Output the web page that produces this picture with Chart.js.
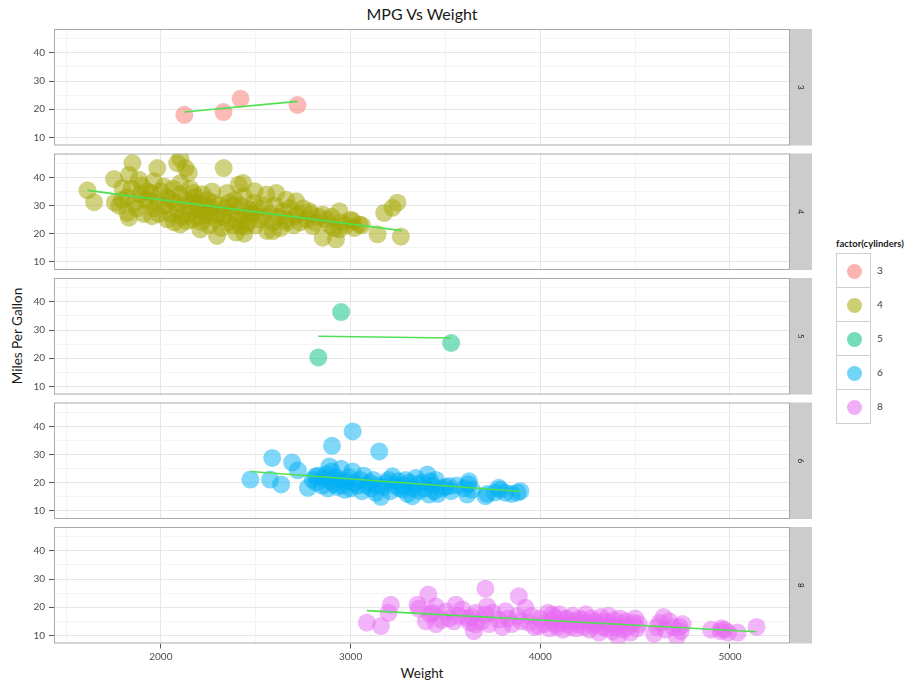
<!DOCTYPE html>
<html>
<head>
<meta charset="utf-8">
<title>MPG Vs Weight</title>
<script src="https://cdn.jsdelivr.net/npm/chart.js@4.4.0/dist/chart.umd.min.js"></script>
<style>
  body { margin: 0; background: #fff; font-family: Lato, "Open Sans", sans-serif; }
  #wrap { position: relative; width: 924px; height: 687px; overflow: hidden; }
  #wrap canvas { position: absolute; left: 0; top: 0; }
  .title { position: absolute; left: 54px; width: 736px; top: 4px; text-align: center; font-size: 16px; color: #1a1a1a; }
  .xtitle { position: absolute; left: 54px; width: 736px; top: 665px; text-align: center; font-size: 13.5px; color: #1a1a1a; }
  .ytitle { position: absolute; left: 17px; top: 336px; transform: translate(-50%, -50%) rotate(-90deg); white-space: nowrap; font-size: 13.5px; color: #1a1a1a; }
  .legend { position: absolute; left: 836px; top: 238px; }
  .legend .ltitle { font-size: 9.5px; font-weight: bold; color: #1a1a1a; margin-bottom: 5px; white-space: nowrap; }
  .legend .key { position: relative; width: 33px; height: 33px; border: 1px solid #cfcfcf; margin-top: -1px; }
  .legend .dot { position: absolute; left: 10px; top: 10px; width: 15px; height: 15px; border-radius: 50%; }
  .legend .lab { position: absolute; left: 40px; top: 10px; font-size: 10px; color: #444; }
</style>
</head>
<body>
<div id="wrap">
  <div class="title">MPG Vs Weight</div>
  <div class="ytitle">Miles Per Gallon</div>
  <div class="xtitle">Weight</div>
  <div class="legend">
    <div class="ltitle">factor(cylinders)</div>
    <div id="keys"></div>
  </div>
</div>
<script>
// [weight, mpg] per cylinder group
const cyl3 = [[2124, 18], [2330, 19], [2420, 23.7], [2720, 21.5]];

const cyl4 = [
  [1613, 35.4], [1648, 31.2], [1753, 39.4], [1757, 31], [1850, 45.1], [1832, 40.9], [1797, 36.3],
  [1884, 39.2], [1823, 27.4], [1832, 25.7], [1981, 43.3], [1963, 38.6], [1946, 34.5], [1954, 26.2],
  [2033, 25.1], [2086, 45.1], [2103, 46.6], [2130, 43.3], [2147, 41.6], [2103, 38], [2016, 36.8],
  [2051, 32.1], [2086, 28.6], [2103, 23.3], [2173, 34.5], [2191, 29.2], [2208, 21.5], [2261, 26.2],
  [2296, 19.2], [2331, 43.3], [2349, 34.5], [2384, 29.8], [2410, 37.4], [2436, 33.3], [2454, 27.4],
  [2419, 22.7], [2433, 38], [2494, 35.1], [2556, 33.9], [2608, 34.5], [2661, 32.1], [2713, 31.5],
  [2783, 28], [2853, 26.8], [2941, 28], [3011, 24.5], [3046, 23.3], [2941, 21.5], [2923, 18],
  [2853, 18.6], [2800, 22.7], [2888, 23.3], [3142, 19.8], [3177, 27.4], [3221, 29.2], [3247, 31],
  [3265, 19], [2713, 26.2], [2661, 23.9], [2590, 20.9], [2538, 26.2], [2468, 28.6], [2450, 22.7],
  [2398, 20.4], [1940, 32], [1965, 29], [1985, 31], [1990, 27], [2000, 35], [2020, 30], [2035, 33],
  [2050, 27], [2065, 36], [2070, 24], [2075, 31], [2100, 34], [2110, 26], [2120, 30], [2130, 32],
  [2135, 24.5], [2145, 27], [2155, 36], [2160, 31], [2170, 25], [2180, 33], [2190, 26], [2200, 31],
  [2210, 28], [2215, 24], [2220, 34], [2230, 30], [2240, 27], [2245, 32], [2255, 23], [2265, 29],
  [2270, 35], [2280, 31], [2290, 25], [2300, 27], [2310, 30], [2320, 22], [2330, 26], [2340, 29],
  [2350, 24], [2360, 31], [2370, 27], [2380, 23], [2390, 32], [2400, 25], [2420, 30], [2430, 26],
  [2440, 20], [2460, 24], [2480, 27], [2490, 31], [2500, 23], [2510, 29], [2525, 25], [2545, 30],
  [2560, 21], [2575, 27], [2590, 24], [2600, 30], [2620, 26], [2630, 22], [2645, 28], [2660, 25],
  [2680, 29], [2700, 23], [2720, 27], [2735, 24], [2750, 29], [2770, 25], [2790, 27], [2810, 24],
  [2830, 26], [2870, 25], [2900, 26], [2910, 22], [2950, 24], [2975, 23], [3000, 25], [3020, 22],
  [3060, 23], [1825, 33], [1845, 36], [1860, 31], [1875, 29], [1890, 34], [1900, 37], [1910, 27],
  [1920, 32], [1930, 35], [1795, 32], [1780, 30]
];

const cyl5 = [[2830, 20.3], [2950, 36.4], [3530, 25.4]];

const cyl6 = [
  [2472, 21.1], [2587, 28.8], [2576, 21.1], [2634, 19.4], [2692, 27.2], [2722, 24.4], [2775, 18.2],
  [2815, 22.3], [2902, 33.1], [2888, 25.8], [3011, 38.2], [3151, 31.1], [3133, 16.4], [3221, 22.3],
  [3274, 17.6], [3344, 21.7], [3405, 22.9], [3414, 15.8], [3326, 15.2], [3519, 18.8], [3624, 20.5],
  [3615, 15.8], [3711, 15.2], [3781, 18.2], [3816, 16.4], [3895, 17], [2800, 21], [2820, 20],
  [2830, 22.5], [2850, 19], [2860, 21.5], [2870, 23], [2880, 18], [2895, 20.5], [2900, 24],
  [2910, 19.5], [2920, 22], [2930, 18.5], [2940, 21], [2950, 25], [2960, 19], [2970, 17.5],
  [2980, 20.5], [2990, 22], [3000, 18], [3010, 24], [3020, 20], [3035, 19], [3050, 21], [3060, 17],
  [3070, 22.5], [3085, 19], [3100, 20], [3110, 18], [3120, 21], [3140, 19], [3160, 15], [3170, 18.5],
  [3190, 20], [3200, 21], [3210, 17], [3230, 19], [3250, 20.5], [3260, 18], [3280, 19], [3290, 21],
  [3300, 16], [3310, 20], [3330, 18], [3350, 19.5], [3360, 17], [3380, 20], [3390, 18], [3420, 20.5],
  [3430, 19], [3440, 17], [3450, 21], [3460, 16], [3480, 18], [3500, 18.5], [3530, 17], [3560, 19],
  [3600, 18], [3620, 19.5], [3640, 17.5], [3720, 16], [3760, 16.5], [3790, 17.5], [3850, 16], [3880, 16.5]
];

const cyl8 = [
  [3086, 14.5], [3160, 13.3], [3212, 20.9], [3200, 18], [3353, 20.9], [3410, 24.5], [3397, 15],
  [3432, 18], [3449, 20.3], [3502, 18.5], [3555, 20.9], [3545, 15], [3589, 19.2], [3615, 16.2],
  [3650, 11.5], [3659, 13.9], [3711, 26.6], [3720, 20.3], [3711, 17.4], [3781, 15.6], [3816, 18.6],
  [3887, 23.9], [3878, 16.8], [3922, 19.8], [3940, 14.5], [3992, 13.3], [4062, 17.4], [4080, 13.9],
  [4133, 15.6], [4000, 16], [4020, 14], [4040, 18], [4050, 12.5], [4060, 15], [4075, 16.5], [4090, 13],
  [4100, 17.5], [4110, 14.5], [4120, 12], [4140, 16], [4150, 14], [4160, 13], [4170, 17], [4180, 15],
  [4190, 12.5], [4200, 14], [4210, 16], [4220, 15.5], [4230, 13], [4240, 17.5], [4250, 14.5],
  [4260, 12], [4270, 16], [4280, 13.5], [4290, 15], [4300, 14], [4310, 11], [4320, 16.5], [4330, 13],
  [4340, 15], [4350, 12.5], [4360, 17], [4370, 14], [4380, 11.5], [4390, 15.5], [4400, 13], [4410, 9.5],
  [4420, 16], [4430, 14], [4440, 12], [4450, 15], [4460, 13], [4475, 11], [4490, 14.5], [4500, 16],
  [4510, 12.5], [4520, 14], [4600, 10.5], [4615, 13], [4630, 14.5], [4650, 16.5], [4660, 12],
  [4680, 15], [4700, 13], [4720, 9.5], [4735, 13], [4740, 11.5], [4750, 14], [4900, 12], [4950, 11.5],
  [4955, 12.5], [4970, 12], [4990, 11], [5040, 11], [5140, 13], [3450, 14], [3520, 16], [3570, 17],
  [3630, 14.5], [3660, 18], [3690, 15], [3730, 14], [3750, 18], [3800, 13], [3830, 16], [3850, 14],
  [3900, 15], [3950, 17], [3970, 13], [3640, 16.5], [3420, 17.5], [3480, 15.5], [3360, 19.5]
];

// linear fit end points per group
const fit3 = [[2124, 19.0], [2720, 22.8]];
const fit4 = [[1613, 35.4], [3270, 21.1]];
const fit5 = [[2830, 27.8], [3530, 27.2]];
const fit6 = [[2472, 24.0], [3900, 16.9]];
const fit8 = [[3086, 18.8], [5140, 11.3]];

const cylinders = ["3", "4", "5", "6", "8"];
const hues = ["248,118,109", "163,165,0", "0,191,125", "0,176,246", "231,107,243"];
const groups = [cyl3, cyl4, cyl5, cyl6, cyl8];
const fits = [fit3, fit4, fit5, fit6, fit8];

const xTicks = [1500, 2000, 2500, 3000, 3500, 4000, 4500, 5000];
const yTicks = [10, 15, 20, 25, 30, 35, 40, 45];
const xRange = [1436.65, 5316.35];
const yRange = [7.12, 48.48];

const W = 924, H = 687;
const panelLeft = 54, panelRight = 790, panelTop = 29, panelHeight = 116.5, panelGap = 8, stripWidth = 22;
const yAxisWidth = 26, xAxisHeight = 22;

const isMajorX = (v) => v % 1000 === 0;
const isMajorY = (v) => v % 10 === 0;

// panel border plus the grey facet strip on the right
const facetFrame = {
  id: "facetFrame",
  afterDraw(chart) {
    const { ctx, chartArea: a } = chart;
    const label = chart.options.plugins.facetFrame.label;
    ctx.save();
    ctx.fillStyle = "#cccccc";
    ctx.fillRect(a.right, a.top, stripWidth, a.bottom - a.top);
    ctx.strokeStyle = "#a8a8a8";
    ctx.lineWidth = 1;
    ctx.strokeRect(a.left + 0.5, a.top + 0.5, a.right - a.left - 1, a.bottom - a.top - 1);
    ctx.translate(a.right + stripWidth / 2, (a.top + a.bottom) / 2);
    ctx.rotate(Math.PI / 2);
    ctx.fillStyle = "#1a1a1a";
    ctx.font = "8px Lato, sans-serif";
    ctx.textAlign = "center";
    ctx.textBaseline = "middle";
    ctx.fillText(label, 0, 0);
    ctx.restore();
  }
};

const wrap = document.getElementById("wrap");

groups.forEach((points, i) => {
  const top = panelTop + i * (panelHeight + panelGap);
  const bottom = top + panelHeight;
  const last = i === groups.length - 1;

  const canvas = document.createElement("canvas");
  canvas.width = W;
  canvas.height = H;
  canvas.style.width = W + "px";
  canvas.style.height = H + "px";
  wrap.appendChild(canvas);

  new Chart(canvas, {
    type: "scatter",
    data: {
      datasets: [
        {
          label: cylinders[i],
          data: points.map(([x, y]) => ({ x, y })),
          backgroundColor: `rgba(${hues[i]},0.5)`,
          borderWidth: 0,
          pointRadius: 9,
          pointHoverRadius: 9,
          clip: 0,
          order: 2,
        },
        {
          type: "line",
          label: "fit " + cylinders[i],
          data: fits[i].map(([x, y]) => ({ x, y })),
          borderColor: "#52e052",
          borderWidth: 1.6,
          pointRadius: 0,
          fill: false,
          clip: 0,
          order: 1,
        },
      ],
    },
    plugins: [facetFrame],
    options: {
      responsive: false,
      animation: false,
      events: [],
      layout: {
        autoPadding: false,
        padding: {
          left: panelLeft - yAxisWidth,
          right: W - panelRight,
          top: top,
          bottom: H - bottom - (last ? xAxisHeight : 0),
        },
      },
      plugins: {
        legend: { display: false },
        tooltip: { enabled: false },
        facetFrame: { label: cylinders[i] },
      },
      scales: {
        x: {
          type: "linear",
          min: xRange[0],
          max: xRange[1],
          afterBuildTicks: (scale) => { scale.ticks = xTicks.map((v) => ({ value: v })); },
          afterFit: (scale) => { scale.height = last ? xAxisHeight : 0; },
          border: { display: false },
          grid: {
            color: (c) => (isMajorX(c.tick.value) ? "#e6e6e6" : "#f4f4f4"),
            lineWidth: 1,
            drawTicks: last,
            tickLength: 5,
            tickColor: (c) => (isMajorX(c.tick.value) ? "#555" : "rgba(0,0,0,0)"),
          },
          ticks: {
            display: last,
            maxRotation: 0,
            autoSkip: false,
            padding: 2,
            color: "#4d4d4d",
            font: { family: "Lato, sans-serif", size: 10 },
            callback: (v) => (isMajorX(v) ? String(v) : ""),
          },
        },
        y: {
          type: "linear",
          min: yRange[0],
          max: yRange[1],
          afterBuildTicks: (scale) => { scale.ticks = yTicks.map((v) => ({ value: v })); },
          afterFit: (scale) => { scale.width = yAxisWidth; },
          border: { display: false },
          grid: {
            color: (c) => (isMajorY(c.tick.value) ? "#e6e6e6" : "#f4f4f4"),
            lineWidth: 1,
            tickLength: 5,
            tickColor: (c) => (isMajorY(c.tick.value) ? "#555" : "rgba(0,0,0,0)"),
          },
          ticks: {
            autoSkip: false,
            padding: 4,
            color: "#4d4d4d",
            font: { family: "Lato, sans-serif", size: 10 },
            callback: (v) => (isMajorY(v) ? String(v) : ""),
          },
        },
      },
    },
  });
});

// legend keys
const keys = document.getElementById("keys");
cylinders.forEach((c, i) => {
  const key = document.createElement("div");
  key.className = "key";
  key.innerHTML = `<div class="dot" style="background: rgba(${hues[i]},0.55)"></div><div class="lab">${c}</div>`;
  keys.appendChild(key);
});
</script>
</body>
</html>
